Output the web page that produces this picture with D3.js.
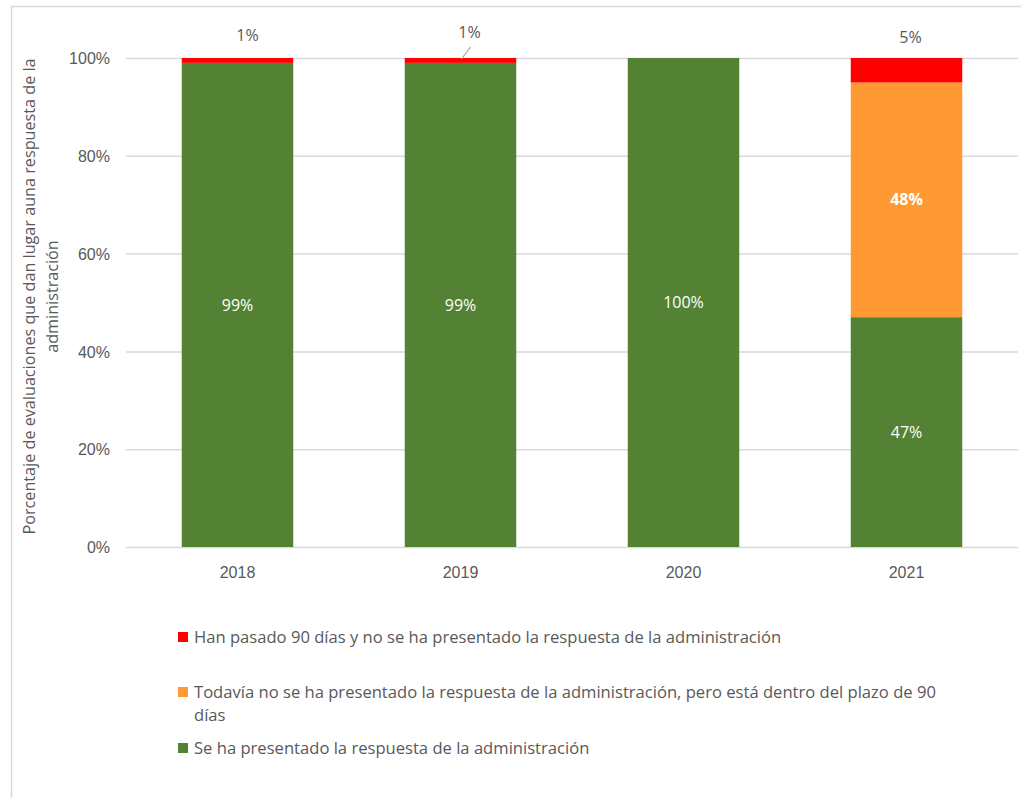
<!DOCTYPE html>
<html>
<head>
<meta charset="utf-8">
<script src="https://cdn.jsdelivr.net/npm/d3@7"></script>
<style>
  body { margin: 0; background: #fff; }
  svg { font-family: "Open Sans", sans-serif; }
  .axis text { fill: #595959; font-size: 16px; }
  .axis path { display: none; }
  .y.axis line { stroke: #d9d9d9; }
  .x.axis line { display: none; }
</style>
</head>
<body>
<svg id="chart" width="1021" height="798"></svg>
<script>
// data
var years = ["2018", "2019", "2020", "2021"];
var seriesNames = ["respondida", "enPlazo", "vencida"];
var respondida = [99, 99, 100, 47];
var enPlazo = [0, 0, 0, 48];
var vencida = [1, 1, 0, 5];
var yTicks = [0, 20, 40, 60, 80, 100];
var legendLabels = [
  ["Han pasado 90 días y no se ha presentado la respuesta de la administración"],
  ["Todavía no se ha presentado la respuesta de la administración, pero está dentro del plazo de 90", "días"],
  ["Se ha presentado la respuesta de la administración"]
];
var yTitle = ["Porcentaje de evaluaciones que dan lugar auna respuesta de la", "administración"];

var colors = {respondida: "#548235", enPlazo: "#ff9933", vencida: "#ff0000"};
var legendKeys = ["vencida", "enPlazo", "respondida"];

var margin = {top: 58, left: 126, right: 3, bottom: 251};
var width = 1021 - margin.left - margin.right;
var height = 798 - margin.top - margin.bottom;

var svg = d3.select("#chart");

// outer frame (left and top edges)
svg.append("path")
    .attr("d", "M 11.5 798 L 11.5 6.5 L 1021 6.5")
    .attr("fill", "none")
    .attr("stroke", "#d9d9d9")
    .attr("stroke-width", 1.5);

var chart = svg.append("g")
    .attr("transform", `translate(${margin.left}, ${margin.top})`);

var table = years.map(function(y, i) {
  return {year: y, respondida: respondida[i], enPlazo: enPlazo[i], vencida: vencida[i]};
});

var xScale = d3.scaleBand().domain(years).range([0, width]).paddingInner(0.5).paddingOuter(0.25);
var yScale = d3.scaleLinear().domain([0, 100]).range([height, 0]);

// gridlines / y axis
chart.append("g")
    .attr("class", "y axis")
    .call(d3.axisLeft(yScale).tickValues(yTicks).tickSize(-width).tickPadding(16)
        .tickFormat(function(d) { return d + "%"; }))
    .call(function(g) {
      g.selectAll("line").attr("stroke-width", 1.5);
      g.selectAll("text").attr("dy", "0.35em");
    });

// x axis
chart.append("g")
    .attr("class", "x axis")
    .attr("transform", `translate(0, ${height})`)
    .call(d3.axisBottom(xScale).tickSize(0).tickPadding(20));

// stacked bars
var stack = d3.stack().keys(seriesNames)(table);
var layer = chart.selectAll("g.layer")
    .data(stack)
    .enter().append("g")
        .attr("class", "layer")
        .attr("fill", function(d) { return colors[d.key]; });

layer.selectAll("rect")
    .data(function(d) { return d; })
    .enter().append("rect")
        .attr("x", function(d) { return xScale(d.data.year); })
        .attr("y", function(d) { return yScale(d[1]); })
        .attr("width", xScale.bandwidth())
        .attr("height", function(d) { return yScale(d[0]) - yScale(d[1]); });

// inside labels for green and orange segments
stack.forEach(function(s) {
  if (s.key == "vencida") return;
  chart.append("g").selectAll("text")
      .data(s.filter(function(d) { return d[1] - d[0] > 0; }))
      .enter().append("text")
          .attr("x", function(d) { return xScale(d.data.year) + xScale.bandwidth() / 2; })
          .attr("y", function(d) { return yScale((d[0] + d[1]) / 2); })
          .attr("dy", "0.35em")
          .attr("text-anchor", "middle")
          .attr("fill", "#fff")
          .attr("font-size", "16px")
          .attr("font-weight", s.key == "enPlazo" ? "bold" : "normal")
          .text(function(d) { return (d[1] - d[0]) + "%"; });
});

// red labels above the bars
var topOffsets = {"2018": [10, -23], "2019": [9, -26], "2021": [4, -21]};
var redData = table.filter(function(d) { return d.vencida > 0; });
chart.append("g").selectAll("text")
    .data(redData)
    .enter().append("text")
        .attr("x", function(d) { return xScale(d.year) + xScale.bandwidth() / 2 + topOffsets[d.year][0]; })
        .attr("y", function(d) { return yScale(100) + topOffsets[d.year][1]; })
        .attr("dy", "0.35em")
        .attr("text-anchor", "middle")
        .attr("fill", "#595959")
        .attr("font-size", "16px")
        .text(function(d) { return d.vencida + "%"; });

// leader line for 2019
chart.append("line")
    .attr("x1", xScale("2019") + xScale.bandwidth() / 2 + 1)
    .attr("y1", yScale(100) + 1)
    .attr("x2", xScale("2019") + xScale.bandwidth() / 2 + 10)
    .attr("y2", yScale(100) - 11)
    .attr("stroke", "#a6a6a6")
    .attr("stroke-width", 1.2);

// y axis title
var yTitleText = svg.append("text")
    .attr("transform", `translate(35, ${margin.top + height / 2 - 6}) rotate(-90)`)
    .attr("text-anchor", "middle")
    .attr("fill", "#595959")
    .attr("font-size", "16.2px");
yTitleText.selectAll("tspan")
    .data(yTitle)
    .enter().append("tspan")
        .attr("x", 0)
        .attr("dy", function(d, i) { return i == 0 ? 0 : "1.4em"; })
        .text(function(d) { return d; });

// legend
var legendY = [637, 692, 748];
var legend = svg.append("g").selectAll("g")
    .data(legendKeys)
    .enter().append("g")
        .attr("transform", function(d, i) { return `translate(178, ${legendY[i]})`; });
legend.append("rect")
    .attr("x", 0)
    .attr("y", -5)
    .attr("width", 10)
    .attr("height", 10)
    .attr("fill", function(d) { return colors[d]; });
legend.append("text")
    .attr("x", 16)
    .attr("y", 0)
    .attr("fill", "#595959")
    .attr("font-size", "16.6px")
    .selectAll("tspan")
    .data(function(d, i) { return legendLabels[i]; })
    .enter().append("tspan")
        .attr("x", 16)
        .attr("dy", function(d, i) { return i == 0 ? "0.35em" : "1.4em"; })
        .text(function(d) { return d; });
</script>
</body>
</html>
